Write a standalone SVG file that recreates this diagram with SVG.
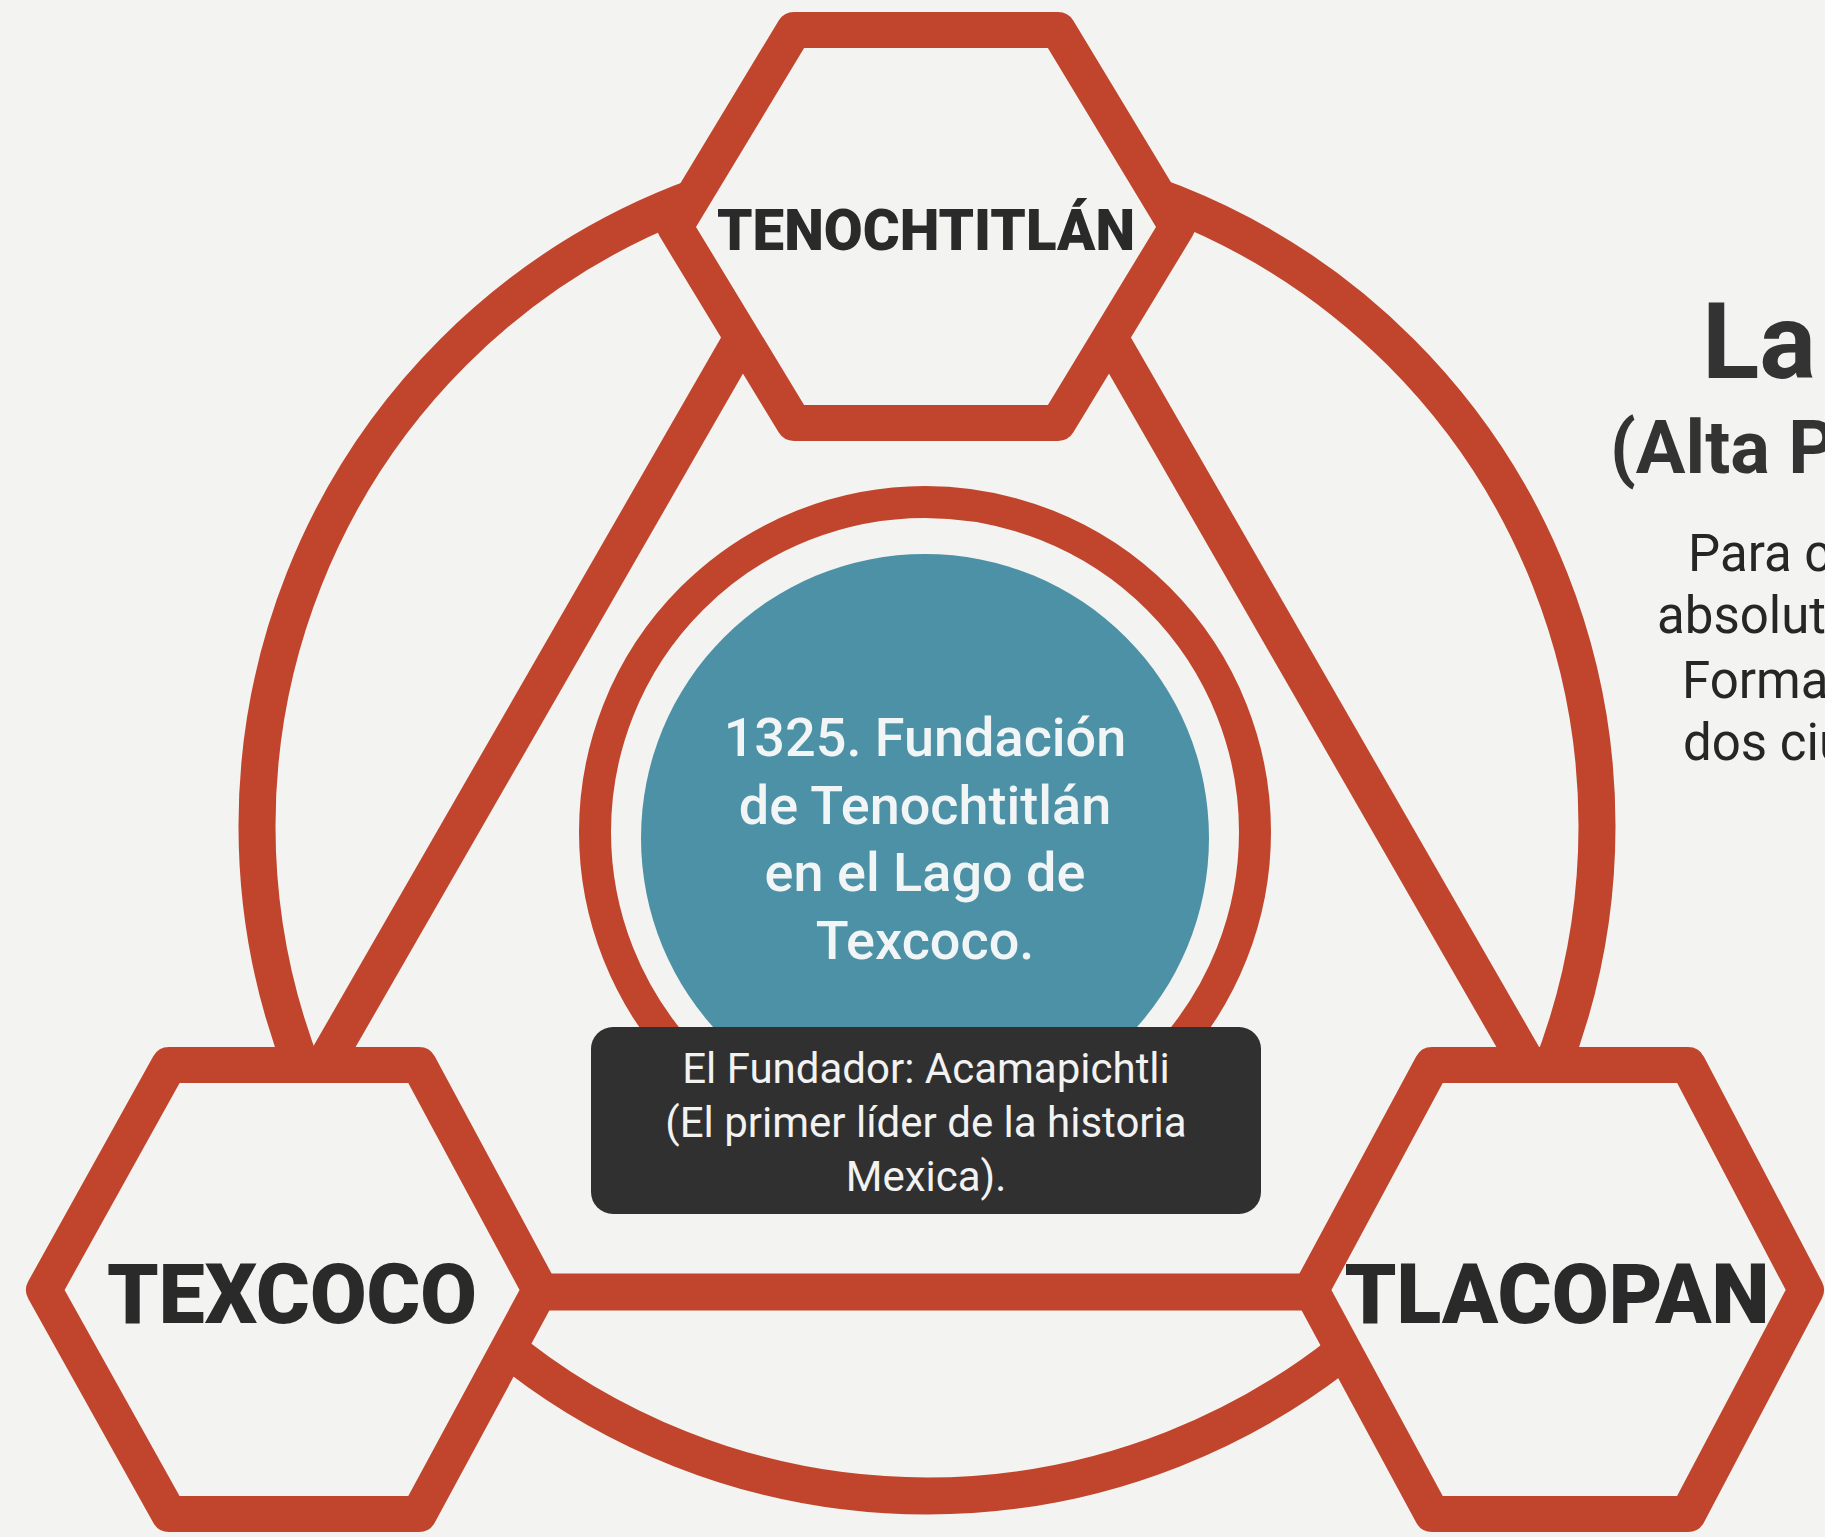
<svg xmlns="http://www.w3.org/2000/svg" width="1825" height="1537" viewBox="0 0 1825 1537">
<style>
.red{fill:none;stroke:#c1452c;stroke-linejoin:round;stroke-linecap:butt}
.hex{fill:#f3f3f1;stroke:#c1452c;stroke-width:36;stroke-linejoin:round}
.hexlbl{font-family:Roboto,"Liberation Sans",sans-serif;font-weight:900;fill:#2a2a2a;text-anchor:middle}
.cen{font-family:Roboto,"Liberation Sans",sans-serif;font-weight:500;fill:#f1f5f6;text-anchor:middle;font-size:54px}
.box{font-family:Roboto,"Liberation Sans",sans-serif;font-weight:400;fill:#f2f2f2;text-anchor:middle;font-size:42px}
.head{font-family:Roboto,"Liberation Sans",sans-serif;font-weight:700;fill:#333333}
.body{font-family:Roboto,"Liberation Sans",sans-serif;font-weight:400;fill:#262626;font-size:51px}
</style>
<rect width="1825" height="1537" fill="#f3f3f1"/>
<g id="connectors">
<circle class="red" cx="927" cy="826" r="670" stroke-width="37"/>
<line class="red" x1="764" y1="300" x2="275" y2="1150" stroke-width="37"/>
<line class="red" x1="1088" y1="300" x2="1577" y2="1150" stroke-width="37"/>
<line class="red" x1="292" y1="1292" x2="1560" y2="1292" stroke-width="37"/>
</g>
<g id="centro">
<circle class="red" cx="925" cy="832" r="330" stroke-width="32"/>
<circle cx="925" cy="838" r="284" fill="#4d91a7"/>
<text class="cen" x="925" y="756">1325. Fundación</text>
<text class="cen" x="925" y="824">de Tenochtitlán</text>
<text class="cen" x="925" y="891">en el Lago de</text>
<text class="cen" x="925" y="959">Texcoco.</text>
</g>
<g id="fundador">
<rect x="591" y="1027" width="670" height="187" rx="22" fill="#303030"/>
<text class="box" x="926" y="1083">El Fundador: Acamapichtli</text>
<text class="box" x="926" y="1137">(El primer líder de la historia</text>
<text class="box" x="926" y="1191">Mexica).</text>
</g>
<g id="tenochtitlan">
<polygon class="hex" points="794,30 1058,30 1177,227 1058,423 794,423 675,227"/>
<text class="hexlbl" x="926" y="250" font-size="57" textLength="418" lengthAdjust="spacingAndGlyphs">TENOCHTITLÁN</text>
</g>
<g id="texcoco">
<polygon class="hex" points="169,1065 419,1065 540,1290 419,1514 169,1514 44,1290"/>
<text class="hexlbl" x="292" y="1323" font-size="84" textLength="370" lengthAdjust="spacingAndGlyphs">TEXCOCO</text>
</g>
<g id="tlacopan">
<polygon class="hex" points="1432,1065 1688,1065 1806,1290 1688,1514 1432,1514 1311,1290"/>
<text class="hexlbl" x="1557" y="1323" font-size="84" textLength="425" lengthAdjust="spacingAndGlyphs">TLACOPAN</text>
</g>
<g id="titulo">
<text class="head" x="1702" y="378" font-size="106">La</text>
<text class="head" x="1610" y="473" font-size="74">(Alta P</text>
<text class="body" x="1688" y="571">Para c</text>
<text class="body" x="1657" y="633">absolut</text>
<text class="body" x="1682" y="698">Forma</text>
<text class="body" x="1683" y="760">dos ciu</text>
</g>
</svg>
